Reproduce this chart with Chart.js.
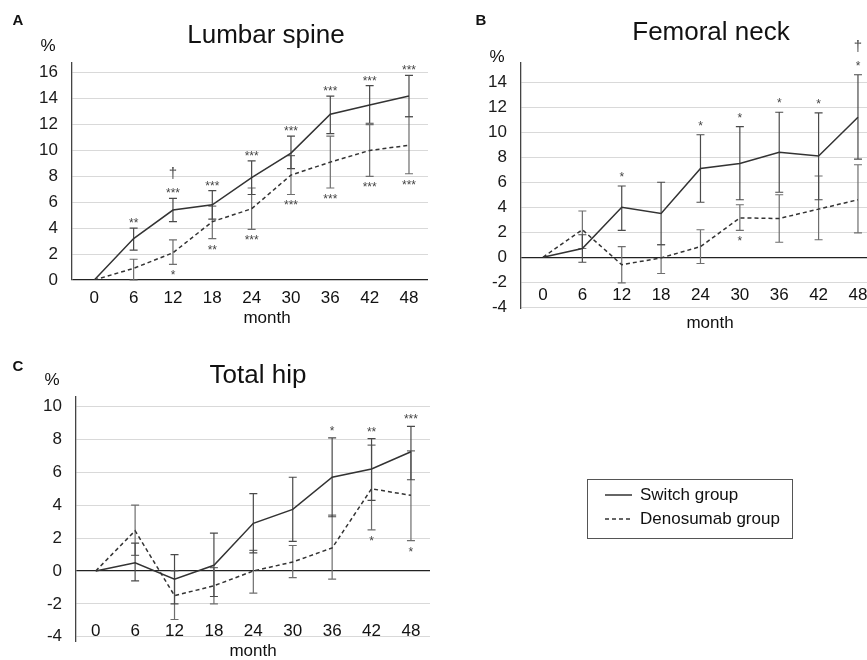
<!DOCTYPE html>
<html>
<head>
<meta charset="utf-8">
<script src="https://cdn.jsdelivr.net/npm/chart.js@4.4.0/dist/chart.umd.min.js"></script>
<style>
html, body { margin: 0; padding: 0; background: #fff; }
#wrap { position: relative; width: 867px; height: 660px; overflow: hidden; }
canvas { position: absolute; }
</style>
</head>
<body>
<div id="wrap">
  <canvas id="chartA" width="440" height="330" style="left:0;top:0"></canvas>
  <canvas id="chartB" width="440" height="330" style="left:440px;top:0"></canvas>
  <canvas id="chartC" width="867" height="330" style="left:0;top:330px"></canvas>
</div>
<script>
const months = [0, 6, 12, 18, 24, 30, 36, 42, 48];
const seriesNames = ['Switch group', 'Denosumab group'];

// A - lumbar spine
const lumbarTicks = [0, 2, 4, 6, 8, 10, 12, 14, 16];
const lumbarSwitch    = [0, 3.2, 5.4, 5.8, 7.9, 9.8, 12.8, 13.5, 14.2];
const lumbarSwitchHi  = [0, 4.0, 6.3, 6.9, 9.2, 11.1, 14.2, 15.0, 15.8];
const lumbarSwitchLo  = [0, 2.3, 4.5, 4.7, 6.6, 8.6, 11.3, 12.1, 12.6];
const lumbarDeno      = [0, 0.9, 2.1, 4.5, 5.5, 8.1, 9.1, 10.0, 10.4];
const lumbarDenoHi    = [0, 1.6, 3.1, 5.7, 7.1, 9.6, 11.1, 12.0, 12.6];
const lumbarDenoLo    = [0, 0.0, 1.2, 3.2, 3.9, 6.6, 7.1, 8.0, 8.2];
const lumbarStarsUp   = ['', '**', '***', '***', '***', '***', '***', '***', '***'];
const lumbarStarsDown = ['', '', '*', '**', '***', '***', '***', '***', '***'];
const lumbarDagger    = ['', '', '†', '', '', '', '', '', ''];

// B - femoral neck
const neckTicks = [-4, -2, 0, 2, 4, 6, 8, 10, 12, 14];
const neckSwitch    = [0, 0.7, 4.0, 3.5, 7.1, 7.5, 8.4, 8.1, 11.2];
const neckSwitchHi  = [0, 1.8, 5.7, 6.0, 9.8, 10.45, 11.6, 11.55, 14.6];
const neckSwitchLo  = [0, -0.4, 2.15, 1.0, 4.4, 4.6, 5.2, 4.6, 7.85];
const neckDeno      = [0, 2.2, -0.6, -0.05, 0.85, 3.15, 3.1, 3.85, 4.6];
const neckDenoHi    = [0, 3.7, 0.85, 1.0, 2.2, 4.2, 5.0, 6.5, 7.4];
const neckDenoLo    = [0, 0.7, -2.05, -1.3, -0.5, 2.15, 1.2, 1.4, 1.95];
const neckStarsUp   = ['', '', '*', '', '*', '*', '*', '*', '*'];
const neckStarsDown = ['', '', '', '', '', '*', '', '', ''];
const neckDagger    = ['', '', '', '', '', '', '', '', '†'];

// C - total hip
const hipTicks = [-4, -2, 0, 2, 4, 6, 8, 10];
const hipSwitch    = [0, 0.5, -0.5, 0.35, 2.9, 3.75, 5.7, 6.2, 7.25];
const hipSwitchHi  = [0, 1.7, 1.0, 2.3, 4.7, 5.7, 8.1, 8.05, 8.8];
const hipSwitchLo  = [0, -0.6, -2.0, -1.55, 1.1, 1.8, 3.3, 4.3, 5.55];
const hipDeno      = [0, 2.45, -1.5, -0.9, 0.0, 0.55, 1.4, 5.0, 4.6];
const hipDenoHi    = [0, 4.0, 0.0, 0.2, 1.25, 1.55, 3.4, 7.65, 7.3];
const hipDenoLo    = [0, 0.95, -2.95, -2.0, -1.35, -0.4, -0.5, 2.5, 1.85];
const hipStarsUp   = ['', '', '', '', '', '', '*', '**', '***'];
const hipStarsDown = ['', '', '', '', '', '', '', '*', '*'];
const hipDagger    = ['', '', '', '', '', '', '', '', ''];

const FONT = "'Liberation Sans', Arial, sans-serif";

const toPoints = vals => months.map((m, i) => ({ x: m, y: vals[i] }));

const panelDeco = {
  id: 'panelDeco',
  beforeDatasetsDraw(chart, args, o) {
    const xs = chart.scales.x, ys = chart.scales.y, ctx = chart.ctx;
    ctx.save();
    ctx.setLineDash([]);
    chart.data.datasets.slice().reverse().forEach(ds => {
      ctx.strokeStyle = ds.errColor;
      ctx.lineWidth = 1.2;
      months.forEach((m, i) => {
        if (ds.errHi[i] === ds.errLo[i]) return;
        const x = xs.getPixelForValue(m);
        const y1 = ys.getPixelForValue(ds.errHi[i]);
        const y2 = ys.getPixelForValue(ds.errLo[i]);
        ctx.beginPath();
        ctx.moveTo(x, y1); ctx.lineTo(x, y2);
        ctx.moveTo(x - 4, y1); ctx.lineTo(x + 4, y1);
        ctx.moveTo(x - 4, y2); ctx.lineTo(x + 4, y2);
        ctx.stroke();
      });
    });
    ctx.restore();
  },
  afterDraw(chart, args, o) {
    const xs = chart.scales.x, ys = chart.scales.y, ctx = chart.ctx;
    const sw = chart.data.datasets[0], dn = chart.data.datasets[1];
    ctx.save();
    ctx.fillStyle = '#111';
    ctx.textAlign = 'center';
    ctx.textBaseline = 'middle';
    ctx.font = 'bold 15px ' + FONT;
    ctx.fillText(o.letter, o.letterX, o.letterY);
    ctx.textBaseline = 'alphabetic';
    ctx.font = '26px ' + FONT;
    ctx.fillText(o.title, o.titleX, o.titleBase);
    ctx.textBaseline = 'middle';
    ctx.font = '17px ' + FONT;
    ctx.fillText('%', chart.chartArea.left - 24, o.pctY);
    months.forEach(m => ctx.fillText(String(m), xs.getPixelForValue(m), o.xLabelY));
    ctx.fillText('month', o.monthX, o.monthY);

    // significance marks
    ctx.fillStyle = '#444';
    ctx.textBaseline = 'alphabetic';
    months.forEach((m, i) => {
      const x = xs.getPixelForValue(m);
      const top = ys.getPixelForValue(sw.errHi[i]);
      const bot = ys.getPixelForValue(dn.errLo[i]);
      ctx.font = '12px ' + FONT;
      if (o.starsUp[i]) ctx.fillText(o.starsUp[i], x, top - o.upGap + 7);
      if (o.starsDown[i]) ctx.fillText(o.starsDown[i], x, bot + 8 + 7);
      ctx.font = '15px ' + FONT;
      if (o.dagger[i]) ctx.fillText(o.dagger[i], x, top - o.upGap - 16 + 4);
    });

    if (o.legend) {
      const L = o.legend;
      ctx.strokeStyle = '#555';
      ctx.lineWidth = 1;
      ctx.strokeRect(L.x + 0.5, L.y + 0.5, L.w, L.h);
      chart.data.datasets.forEach((ds, k) => {
        const y = L.y + 16 + k * 24;
        ctx.strokeStyle = ds.borderColor;
        ctx.lineWidth = 1.5;
        ctx.setLineDash(ds.borderDash || []);
        ctx.beginPath();
        ctx.moveTo(L.x + 18, y); ctx.lineTo(L.x + 45, y);
        ctx.stroke();
        ctx.setLineDash([]);
        ctx.fillStyle = '#111';
        ctx.font = '17px ' + FONT;
        ctx.textAlign = 'left';
        ctx.textBaseline = 'middle';
        ctx.fillText(ds.label, L.x + 53, y);
      });
    }
    ctx.restore();
  }
};

function makePanel(id, p) {
  return new Chart(document.getElementById(id), {
    type: 'line',
    data: {
      datasets: [{
        label: seriesNames[0],
        data: toPoints(p.sw),
        errHi: p.swHi, errLo: p.swLo, errColor: '#4a4a4a',
        borderColor: '#333', borderWidth: 1.5, pointRadius: 0, tension: 0
      }, {
        label: seriesNames[1],
        data: toPoints(p.dn),
        errHi: p.dnHi, errLo: p.dnLo, errColor: '#6e6e6e',
        borderColor: '#333', borderWidth: 1.5, borderDash: [4, 3], pointRadius: 0, tension: 0
      }]
    },
    options: {
      responsive: false,
      animation: false,
      layout: { padding: p.pad },
      plugins: {
        legend: { display: false },
        tooltip: { enabled: false },
        panelDeco: p.deco
      },
      scales: {
        x: { type: 'linear', display: false, min: p.xMin, max: p.xMax },
        y: {
          min: p.yMin, max: p.yMax,
          border: { display: true, color: '#444', width: 1.3 },
          grid: {
            drawTicks: false,
            color: c => c.tick.value === 0 ? '#222' : '#d9d9d9',
            lineWidth: c => c.tick.value === 0 ? 1.3 : 1
          },
          ticks: { padding: 14, color: '#1a1a1a', font: { size: 17, family: FONT } },
          afterBuildTicks: s => { s.ticks = p.ticks.map(v => ({ value: v })); },
          afterFit: s => { s.width = p.axisLeft; s.paddingTop = 0; s.paddingBottom = 0; }
        }
      }
    },
    plugins: [panelDeco]
  });
}

makePanel('chartA', {
  sw: lumbarSwitch, swHi: lumbarSwitchHi, swLo: lumbarSwitchLo,
  dn: lumbarDeno, dnHi: lumbarDenoHi, dnLo: lumbarDenoLo,
  ticks: lumbarTicks, yMin: 0, yMax: 16.75, xMin: -3.4, xMax: 50.9,
  axisLeft: 72, pad: { left: 0, top: 63, right: 12, bottom: 50 },
  deco: {
    letter: 'A', letterX: 18, letterY: 21, title: 'Lumbar spine', titleX: 266, titleBase: 43,
    pctY: 46, xLabelY: 298, monthX: 267, monthY: 318, upGap: 8,
    starsUp: lumbarStarsUp, starsDown: lumbarStarsDown, dagger: lumbarDagger
  }
});

makePanel('chartB', {
  sw: neckSwitch, swHi: neckSwitchHi, swLo: neckSwitchLo,
  dn: neckDeno, dnHi: neckDenoHi, dnLo: neckDenoLo,
  ticks: neckTicks, yMin: -4.1, yMax: 15.54, xMin: -3.35, xMax: 50.9,
  axisLeft: 81, pad: { left: 0, top: 63, right: 3, bottom: 21.5 },
  deco: {
    letter: 'B', letterX: 41, letterY: 21, title: 'Femoral neck', titleX: 271, titleBase: 40,
    pctY: 57, xLabelY: 295, monthX: 270, monthY: 323, upGap: 12,
    starsUp: neckStarsUp, starsDown: neckStarsDown, dagger: neckDagger
  }
});

makePanel('chartC', {
  sw: hipSwitch, swHi: hipSwitchHi, swLo: hipSwitchLo,
  dn: hipDeno, dnHi: hipDenoHi, dnLo: hipDenoLo,
  ticks: hipTicks, yMin: -4.3, yMax: 10.6, xMin: -3.0, xMax: 50.9,
  axisLeft: 76, pad: { left: 0, top: 66.7, right: 437, bottom: 18.3 },
  deco: {
    letter: 'C', letterX: 18, letterY: 37, title: 'Total hip', titleX: 258, titleBase: 53,
    pctY: 50, xLabelY: 301, monthX: 253, monthY: 321, upGap: 10,
    starsUp: hipStarsUp, starsDown: hipStarsDown, dagger: hipDagger,
    legend: { x: 587, y: 149, w: 205, h: 59 }
  }
});
</script>
</body>
</html>
